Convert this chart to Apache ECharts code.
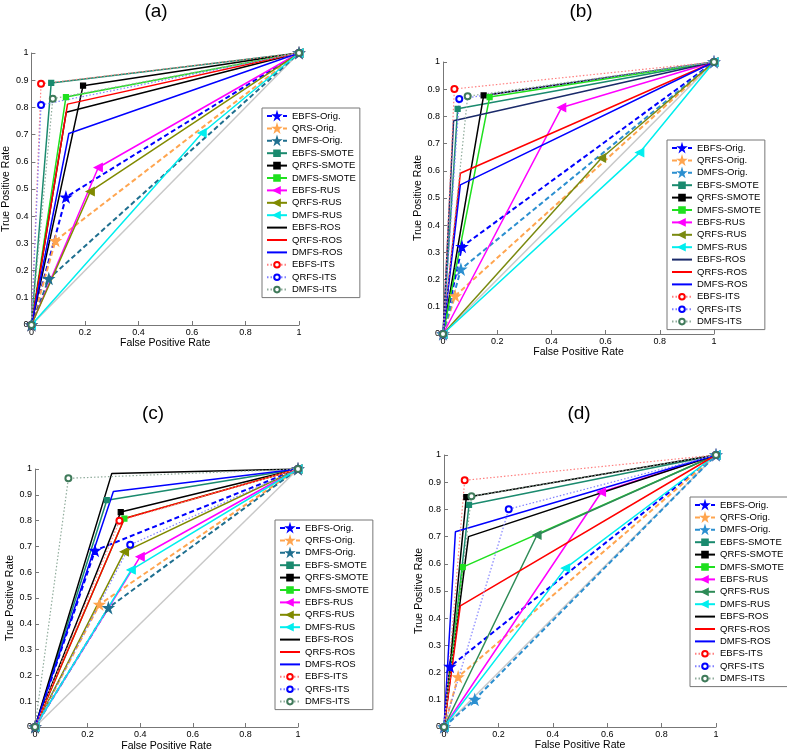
<!DOCTYPE html>
<html>
<head>
<meta charset="utf-8">
<script src="https://cdn.jsdelivr.net/npm/echarts@6/dist/echarts.min.js"></script>
<style>
html, body { margin: 0; padding: 0; background: #fff; }
#chart { width: 787px; height: 753px; }
</style>
</head>
<body>
<div id="chart"></div>
<script>
// legend names, panel (a) uses "QRS-Orig." like the original figure
var namesA = ['EBFS-Orig.', 'QRS-Orig.', 'DMFS-Orig.', 'EBFS-SMOTE', 'QRFS-SMOTE', 'DMFS-SMOTE', 'EBFS-RUS', 'QRFS-RUS', 'DMFS-RUS', 'EBFS-ROS', 'QRFS-ROS', 'DMFS-ROS', 'EBFS-ITS', 'QRFS-ITS', 'DMFS-ITS'];
var names = ['EBFS-Orig.', 'QRFS-Orig.', 'DMFS-Orig.', 'EBFS-SMOTE', 'QRFS-SMOTE', 'DMFS-SMOTE', 'EBFS-RUS', 'QRFS-RUS', 'DMFS-RUS', 'EBFS-ROS', 'QRFS-ROS', 'DMFS-ROS', 'EBFS-ITS', 'QRFS-ITS', 'DMFS-ITS'];
var panelTitles = ['(a)', '(b)', '(c)', '(d)'];
var xTicks = [0, 0.2, 0.4, 0.6, 0.8, 1];
var yTicks = [0, 0.1, 0.2, 0.3, 0.4, 0.5, 0.6, 0.7, 0.8, 0.9, 1];

// operating point [FPR, TPR] of each method, curve goes (0,0) -> point -> (1,1)
var pointsA = [[0.129, 0.470], [0.09, 0.31], [0.065, 0.170], [0.074, 0.890], [0.193, 0.880], [0.129, 0.838], [0.250, 0.579], [0.220, 0.491], [0.638, 0.706], [0.130, 0.782], [0.135, 0.812], [0.140, 0.704], [0.036, 0.887], [0.036, 0.809], [0.080, 0.832]];
var pointsB = [[0.070, 0.321], [0.045, 0.140], [0.066, 0.238], [0.054, 0.828], [0.150, 0.877], [0.172, 0.871], [0.438, 0.833], [0.585, 0.647], [0.726, 0.667], [0.039, 0.784], [0.064, 0.591], [0.064, 0.548], [0.042, 0.901], [0.060, 0.864], [0.091, 0.874]];
var pointsC = [[0.228, 0.684], [0.245, 0.475], [0.279, 0.462], [0.273, 0.879], [0.326, 0.833], [0.340, 0.808], [0.400, 0.660], [0.340, 0.679], [0.366, 0.609], [0.292, 0.983], [0.340, 0.808], [0.298, 0.913], [0.321, 0.799], [0.362, 0.706], [0.127, 0.964]];
var pointsD = [[0.022, 0.222], [0.052, 0.184], [0.113, 0.101], [0.092, 0.817], [0.082, 0.845], [0.069, 0.588], [0.579, 0.864], [0.342, 0.706], [0.447, 0.584], [0.090, 0.700], [0.060, 0.445], [0.042, 0.718], [0.076, 0.907], [0.238, 0.801], [0.101, 0.848]];

var STAR = 'path://M50,0 L61,35 L98,35 L68,57 L79,91 L50,70 L21,91 L32,57 L2,35 L39,35 Z';

// line colours per panel (ITS lines are drawn lighter than their circles)
var colorsA = ['#0000ff', '#ffa54f', '#1f6f8f', '#1a8a6e', '#000000', '#1fe01f', '#ff00ff', '#808a00', '#00eeee', '#000000', '#ff0000', '#0000ff', '#ff8080', '#8080ff', '#90ac9c'];
var colorsB = ['#0000ff', '#ffa54f', '#2b8fd0', '#1a8a6e', '#000000', '#1fe01f', '#ff00ff', '#7a8a10', '#00eeee', '#1a2a6a', '#ff0000', '#0000ff', '#ff8080', '#8080ff', '#90ac9c'];
var colorsC = colorsA;
var colorsD = ['#0000ff', '#ffa54f', '#2b8fd0', '#1a8a6e', '#000000', '#1fe01f', '#ff00ff', '#2e8b57', '#00eeee', '#000000', '#ff0000', '#0000ff', '#ff8080', '#8080ff', '#90ac9c'];
var itsMarker = ['#ff0000', '#0000ff', '#3f7a5a'];

var panels = [
    { key: 'a', names: namesA, points: pointsA, colors: colorsA, grid: { left: 28, top: 53, width: 271, height: 272 }, legend: { left: 262, top: 108 }, title: { x: 151, y: -3 }, xNameGap: 12 },
    { key: 'b', names: names, points: pointsB, colors: colorsB, grid: { left: 443, top: 62, width: 271, height: 272 }, legend: { left: 667, top: 140 }, title: { x: 576, y: -3 }, xNameGap: 12 },
    { key: 'c', names: names, points: pointsC, colors: colorsC, grid: { left: 35, top: 469, width: 263, height: 262 }, legend: { left: 275, top: 520 }, title: { x: 148, y: 399 }, xNameGap: 14 },
    { key: 'd', names: names, points: pointsD, colors: colorsD, grid: { left: 444, top: 455, width: 272, height: 272 }, legend: { left: 690, top: 497 }, title: { x: 574, y: 399 }, xNameGap: 12 }
];

var kindStyle = [
    { dash: [5, 3], width: 2, symbol: STAR, size: 10, rotate: 0 },
    { dash: 'solid', width: 1.5, symbol: 'rect', size: 5, rotate: 0 },
    { dash: 'solid', width: 1.5, symbol: 'triangle', size: 8, rotate: 90 },
    { dash: 'solid', width: 1.5, symbol: 'none', size: 0, rotate: 0 },
    { dash: [1.5, 2], width: 1.2, symbol: 'emptyCircle', size: 6, rotate: 0 }
];

var font = 'Liberation Sans, Arial, Helvetica, sans-serif';
var tickFmt = function (v) { return String(+v.toFixed(1)); };
var grids = [], xAxes = [], yAxes = [], legends = [], titles = [], series = [];

panels.forEach(function (p, pi) {
    grids.push(p.grid);
    titles.push({
        text: panelTitles[pi], left: p.title.x, top: p.title.y, textAlign: 'center',
        textStyle: { fontFamily: font, fontSize: 19, fontWeight: 'normal', color: '#000' }
    });
    xAxes.push({
        gridIndex: pi, type: 'value', min: 0, max: 1, interval: 0.2,
        name: 'False Positive Rate', nameLocation: 'middle', nameGap: p.xNameGap,
        nameTextStyle: { fontFamily: font, fontSize: 10.5, color: '#000' },
        axisLine: { lineStyle: { color: '#777', width: 1 } },
        axisTick: { inside: true, length: 4, lineStyle: { color: '#777' } },
        axisLabel: { fontFamily: font, fontSize: 9, color: '#000', margin: 3, formatter: tickFmt },
        splitLine: { show: false }
    });
    yAxes.push({
        gridIndex: pi, type: 'value', min: 0, max: 1, interval: 0.1,
        name: 'True Positive Rate', nameLocation: 'middle', nameGap: 18,
        nameTextStyle: { fontFamily: font, fontSize: 10.5, color: '#000' },
        axisLine: { show: true, lineStyle: { color: '#777', width: 1 } },
        axisTick: { show: true, inside: true, length: 4, lineStyle: { color: '#777' } },
        axisLabel: { fontFamily: font, fontSize: 9, color: '#000', margin: 3, formatter: tickFmt },
        splitLine: { show: false }
    });

    // chance diagonal
    series.push({
        type: 'line', xAxisIndex: pi, yAxisIndex: pi, silent: true,
        data: [[0, 0], [1, 1]], symbol: 'none',
        lineStyle: { color: '#c8c8c8', width: 1.5 }
    });

    var legendNames = [];
    p.names.forEach(function (nm, i) {
        var kind = Math.floor(i / 3);
        var k = kindStyle[kind];
        var col = p.colors[i];
        var markCol = kind === 4 ? itsMarker[i % 3] : col;
        var sname = p.key + '|' + nm;
        legendNames.push(sname);
        series.push({
            type: 'line', name: sname, xAxisIndex: pi, yAxisIndex: pi,
            data: [[0, 0], p.points[i], [1, 1]],
            symbol: k.symbol, symbolSize: k.size, symbolRotate: k.rotate,
            showAllSymbol: true,
            lineStyle: { color: col, width: k.width, type: k.dash },
            itemStyle: { color: markCol, borderColor: markCol, borderWidth: 1.2, opacity: kind === 3 ? 0 : 1 },
            emphasis: { disabled: true }
        });
    });

    legends.push({
        data: legendNames, orient: 'vertical', left: p.legend.left, top: p.legend.top,
        itemWidth: 20, itemHeight: 7, itemGap: 2.4, padding: [3, 4, 3, 4],
        backgroundColor: '#fff', borderColor: '#777', borderWidth: 1,
        selectedMode: false,
        textStyle: { fontFamily: font, fontSize: 9.5, color: '#000' },
        formatter: function (name) { return name.split('|')[1]; }
    });
});

var chart = echarts.init(document.getElementById('chart'));
chart.setOption({
    animation: false,
    backgroundColor: '#fff',
    title: titles,
    grid: grids,
    xAxis: xAxes,
    yAxis: yAxes,
    legend: legends,
    series: series
});
</script>
</body>
</html>
